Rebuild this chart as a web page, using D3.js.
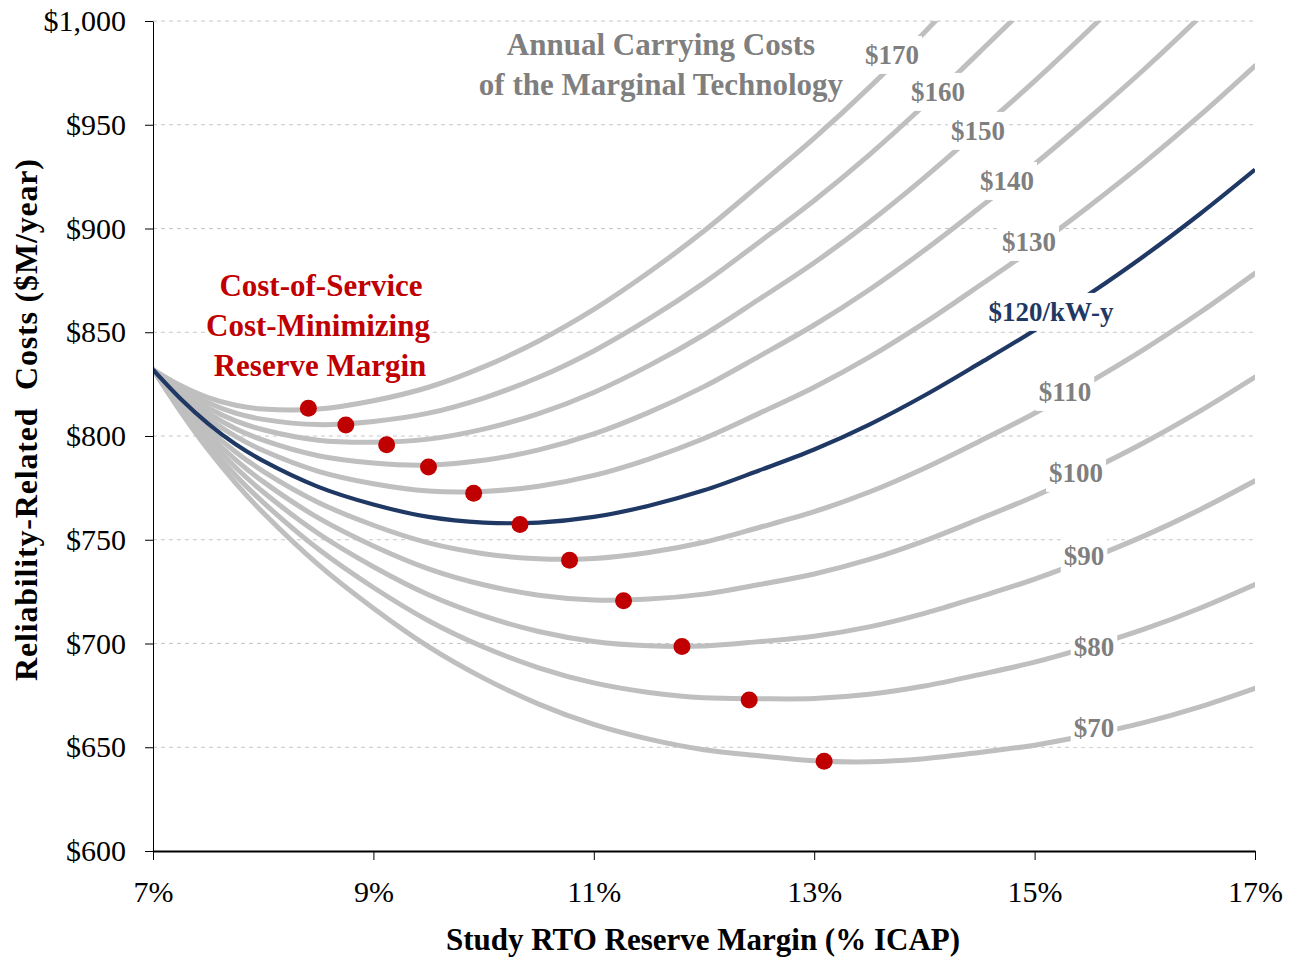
<!DOCTYPE html>
<html><head><meta charset="utf-8">
<script src="https://cdn.jsdelivr.net/npm/d3@7"></script>
<style>
body{margin:0;background:#fff}
svg{display:block}
text{font-family:"Liberation Serif","Times New Roman",serif}
</style>
</head><body>
<svg id="chart" width="1295" height="959"></svg>
<script>
// ---- data ----
const reserveMargin = [7,7.25,7.5,7.75,8,8.5,9,9.5,10,10.5,11,11.5,12,12.5,13,13.5,14,14.5,15,15.5,16,16.5,17];
const cost70  = [832,811.8,793.5,777.3,763,738,717,698.5,683.3,670.8,661,653.9,648.8,645.9,643.5,643,644.5,647.5,651,656,662,669.5,678.4];
const cost80  = [832,813,796,781,768,745.5,727,711,698.3,688.3,681,676.4,673.8,673.4,673.5,675.5,679.5,685,691,698.5,707,717,728.4];
const cost90  = [832,814.3,798.5,784.8,773,753,737,723.5,713.3,705.8,701,698.9,698.8,700.9,703.5,708,714.5,722.5,731,741,752,764.5,778.4];
const cost100 = [832,815.5,801,788.5,778,760.5,747,736,728.3,723.3,721,721.4,723.8,728.4,733.5,740.5,749.5,760,771,783.5,797,812,828.4];
const cost110 = [832,816.8,803.5,792.3,783,768,757,748.5,743.3,740.8,741,743.9,748.8,755.9,763.5,773,784.5,797.5,811,826,842,859.5,878.4];
const cost120 = [832,818,806,796,788,775.5,767,761,758.3,758.3,761,766.4,773.8,783.4,793.5,805.5,819.5,835,851,868.5,887,907,928.4];
const cost130 = [832,819.3,808.5,799.8,793,783,777,773.5,773.3,775.8,781,788.9,798.8,810.9,823.5,838,854.5,872.5,891,911,932,954.5,978.4];
const cost140 = [832,820.5,811,803.5,798,790.5,787,786,788.3,793.3,801,811.4,823.8,838.4,853.5,870.5,889.5,910,931,953.5,977,1002,1028.4];
const cost150 = [832,821.8,813.5,807.3,803,798,797,798.5,803.3,810.8,821,833.9,848.8,865.9,883.5,903,924.5,947.5,971,996,1022,1049.5,1078.4];
const cost160 = [832,823,816,811,808,805.5,807,811,818.3,828.3,841,856.4,873.8,893.4,913.5,935.5,959.5,985,1011,1038.5,1067,1097,1128.4];
const cost170 = [832,824.3,818.5,814.8,813,813,817,823.5,833.3,845.8,861,878.9,898.8,920.9,943.5,968,994.5,1022.5,1051,1081,1112,1144.5,1178.4];

const carryingCost = [70,80,90,100,110,120,130,140,150,160,170];
const curveLabels  = ["$70","$80","$90","$100","$110","$120/kW-y","$130","$140","$150","$160","$170"];
const highlightCost = 120;

// cost-minimizing reserve margin points
const minReserveMargin = [8.41,8.75,9.12,9.50,9.91,10.33,10.78,11.27,11.80,12.41,13.09];
const minCost          = [813.4,805.3,795.8,785.1,772.4,757.4,740.1,720.6,698.5,672.8,643.2];

const yTicks = [600,650,700,750,800,850,900,950,1000];
const xTicks = [7,9,11,13,15,17];

const titleLines = ["Annual Carrying Costs","of the Marginal Technology"];
const noteLines  = ["Cost-of-Service","Cost-Minimizing","Reserve Margin"];
const xTitle = "Study RTO Reserve Margin (% ICAP)";
const yTitle = "Reliability-Related  Costs ($M/year)";

// ---- layout ----
const seriesValues = [cost70,cost80,cost90,cost100,cost110,cost120,cost130,cost140,cost150,cost160,cost170];
const labelPos = {70:[1094,728],80:[1094,647],90:[1084,556],100:[1076,473],110:[1065,392],
                  120:[1051,312],130:[1029,242],140:[1007,181],150:[978,131],160:[938,92],170:[892,55]};

const svg = d3.select("#chart");
const L=153, R=1255, T=21, B=851;
const x = d3.scaleLinear().domain([7,17]).range([L,R]);
const y = d3.scaleLinear().domain([600,1000]).range([B,T]);

const GRAY="#BFBFBF", NAVY="#1F3864", RED="#C00000", LABEL="#7F7F7F";

svg.append("defs").append("clipPath").attr("id","plot")
  .append("rect").attr("x",L).attr("y",T).attr("width",R-L).attr("height",B-T);

// gridlines
svg.append("g").selectAll("line").data(yTicks.filter(d=>d>600)).join("line")
  .attr("x1",L).attr("x2",R).attr("y1",d=>y(d)).attr("y2",d=>y(d))
  .attr("stroke","#C8C8C8").attr("stroke-width",1).attr("stroke-dasharray","4,4");

// curves
const line = d3.line().x((d,i)=>x(reserveMargin[i])).y(d=>y(d)).curve(d3.curveCatmullRom.alpha(0.5));
const curves = svg.append("g").attr("clip-path","url(#plot)");
carryingCost.forEach((c,k)=>{
  if(c===highlightCost) return;
  curves.append("path").datum(seriesValues[k]).attr("d",line)
    .attr("fill","none").attr("stroke",GRAY).attr("stroke-width",5).attr("stroke-linecap","round");
});
const hk = carryingCost.indexOf(highlightCost);
curves.append("path").datum(seriesValues[hk]).attr("d",line)
  .attr("fill","none").attr("stroke",NAVY).attr("stroke-width",4.2);

// axes
const yAxis = svg.append("g").attr("transform",`translate(${L},0)`)
  .call(d3.axisLeft(y).tickValues(yTicks).tickSize(8).tickSizeOuter(0).tickPadding(19)
        .tickFormat(d=>"$"+d3.format(",")(d)));
yAxis.selectAll("text").attr("font-size",30).attr("fill","#000")
  .attr("font-family","'Liberation Serif','Times New Roman',serif");
yAxis.select(".domain").attr("stroke","#000");

const xAxis = svg.append("g").attr("transform",`translate(0,${B})`)
  .call(d3.axisBottom(x).tickValues(xTicks).tickSize(9).tickSizeOuter(0)
        .tickFormat(d=>d+"%"));
xAxis.selectAll("text").attr("font-size",30).attr("fill","#000").attr("y",51).attr("dy",null)
  .attr("font-family","'Liberation Serif','Times New Roman',serif");
xAxis.select(".domain").attr("stroke","#000").attr("stroke-width",2);

// helper: text with white box behind
function boxedText(g, str, px, py, opts){
  const t = g.append("text").attr("x",px).attr("y",py).text(str)
    .attr("text-anchor","middle").attr("font-weight","bold")
    .attr("font-size",opts.size).attr("fill",opts.color);
  if(opts.dy) t.attr("dy",opts.dy);
  const bb = t.node().getBBox();
  const ph = opts.padX ?? 3, pv = opts.padY ?? 4;
  g.insert("rect","text:last-child")
    .attr("x",bb.x-ph).attr("y",bb.y-pv).attr("width",bb.width+2*ph).attr("height",bb.height+2*pv)
    .attr("fill","#fff");
  return t;
}

// curve labels
carryingCost.forEach((c,k)=>{
  const g = svg.append("g");
  const [lx,ly] = labelPos[c];
  boxedText(g, curveLabels[k], lx, ly, {size:27, color: c===highlightCost?NAVY:LABEL, dy:"0.33em", padX:3, padY:4});
});

// title
titleLines.forEach((s,i)=>{
  const g = svg.append("g");
  boxedText(g, s, 661, [55,95][i], {size:31, color:LABEL, padX:2, padY:0});
});

// red note
noteLines.forEach((s,i)=>{
  const g = svg.append("g");
  boxedText(g, s, [321,318,320][i], [296,336,376][i], {size:31, color:RED, padX:1, padY:0});
});

// dots
svg.append("g").selectAll("circle").data(minCost).join("circle")
  .attr("cx",(d,i)=>x(minReserveMargin[i])).attr("cy",d=>y(d)).attr("r",8.5).attr("fill",RED);

// axis titles
svg.append("text").attr("x",703).attr("y",950).attr("text-anchor","middle")
  .attr("font-size",31).attr("font-weight","bold").attr("fill","#000").text(xTitle);
svg.append("text").attr("transform","translate(37,420) rotate(-90)").attr("text-anchor","middle")
  .attr("font-size",32).attr("font-weight","bold").attr("fill","#000")
  .attr("textLength",522).attr("lengthAdjust","spacing")
  .attr("xml:space","preserve").style("white-space","pre").text(yTitle);
</script>
</body></html>
